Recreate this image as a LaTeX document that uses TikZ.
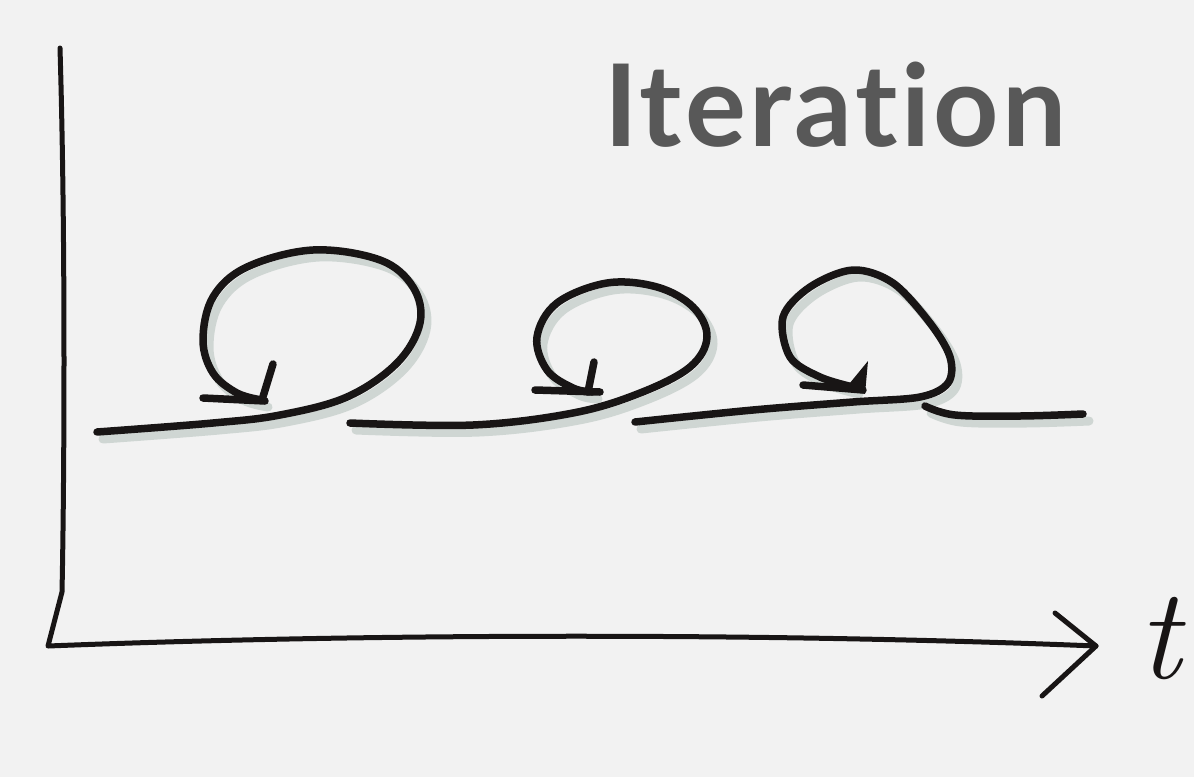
\documentclass[tikz,border=0pt]{standalone}
\usepackage{fontspec}
\newfontfamily\titlefont{Lato}[Ligatures=NoCommon,LetterSpace=3]
\definecolor{paper}{RGB}{242,242,242}
\definecolor{ink}{RGB}{24,21,21}
\definecolor{shade}{RGB}{196,205,201}
\definecolor{titlegray}{RGB}{88,88,88}
\begin{document}
\begin{tikzpicture}[x=1pt,y=-1pt,
  pen/.style={draw=ink,line width=7.5pt,line cap=round,line join=round},
  axisline/.style={draw=ink,line width=5pt,line cap=round,line join=round},
  shadowline/.style={draw=shade,line width=9pt,line cap=round,line join=round,opacity=0.75},
  loopone/.style={insert path={plot[smooth,tension=0.6] coordinates {(97,432) (213,423) (280,415) (347,397) (397,363) (420,323) (413,287) (380,260) (313,250) (247,267) (213,297) (203,340) (213,373) (237,393) (262,400)}}},
  looptwo/.style={insert path={plot[smooth,tension=0.6] coordinates {(350,423) (473,425) (573,413) (640,393) (690,367) (707,337) (693,307) (657,287) (607,283) (557,303) (537,337) (547,370) (573,388) (592,392)}}},
  loopthree/.style={insert path={plot[smooth,tension=0.55] coordinates {(635,422) (753,410) (853,402) (920,397) (948,383) (950,357) (930,323) (893,283) (853,270) (810,287) (783,317) (790,357) (820,377) (853,387)}}},
  tailpath/.style={insert path={plot[smooth,tension=0.6] coordinates {(925,406) (955,415) (1020,416) (1083,414)}}}
]
\fill[paper] (0,0) rectangle (1194,777);
\useasboundingbox (0,0) rectangle (1194,777);

% shadows
\begin{scope}[shift={(6,7)}]
  \draw[shadowline,loopone];
  \draw[shadowline,looptwo];
  \draw[shadowline,loopthree];
  \draw[shadowline,tailpath];
\end{scope}

% loops
\draw[pen,loopone];
\draw[pen] (203,398) -- (265,401);
\draw[pen] (273,364) -- (262,400);

\draw[pen,looptwo];
\draw[pen] (535,390) -- (600,392);
\draw[pen] (594,362) -- (588,392);

\draw[pen,loopthree];
\draw[pen] (803,385) -- (863,390);
\fill[ink] (868,361) -- (845,389) -- (865,394) -- cycle;
\draw[pen,tailpath];

% axes
\coordinate (ytop) at (60,48);
\coordinate (ybend) at (62,592);
\coordinate (origin) at (48,646);
\coordinate (xend) at (1096,646);
\draw[axisline] (ytop) .. controls (66,250) and (64,500) .. (ybend) -- (origin)
  .. controls (350,634) and (750,632) .. (xend);
\draw[axisline] (1055,613) -- (xend) -- (1042,696);

% labels
\node[anchor=base west,inner sep=0pt,text=titlegray,
  font=\titlefont\bfseries\fontsize{114}{114}\selectfont] (title) at (604,146) {Iteration};
\node[anchor=base,inner sep=0pt,text=ink,
  font=\itshape\fontsize{130}{130}\selectfont] (tlabel) at (1160,678) {t};
\end{tikzpicture}
\end{document}
